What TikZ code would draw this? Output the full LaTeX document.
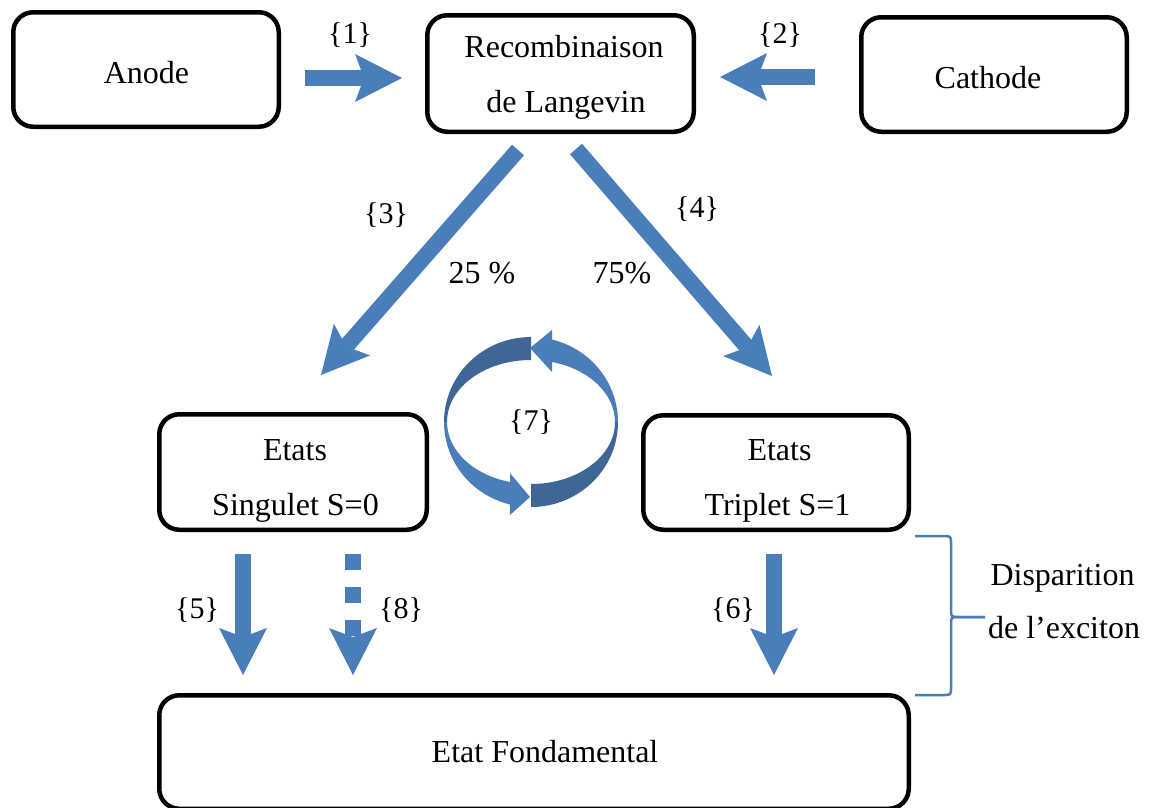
\documentclass[tikz,border=0pt]{standalone}
\usepackage{fontspec}
\setmainfont{Liberation Serif}
\usetikzlibrary{arrows.meta}
\definecolor{arrowblue}{HTML}{4A7EBB}
\definecolor{ribbondark}{HTML}{3F6796}

\begin{document}
\begin{tikzpicture}[x=1pt, y=-1pt,
  box/.style={draw=black, line width=4.5pt, rounded corners=20pt, inner sep=0pt},
  txt/.style={font=\fontsize{32}{38}\selectfont, anchor=base, inner sep=0pt},
  tag/.style={font=\fontsize{30}{36}\selectfont, anchor=base, inner sep=0pt},
  fatarrow/.style={draw=arrowblue, line width=16pt,
    -{Stealth[length=47pt, width=48pt, inset=9pt, line width=0pt]}},
  dotarrow/.style={fatarrow, dash pattern=on 16pt off 17pt},
  bracket/.style={draw=arrowblue, line width=2.5pt},
]
\useasboundingbox (0,0) rectangle (1151,807);

% frames
\node[box, minimum width=265.5pt, minimum height=114.5pt] (anode)    at (146,69.5)  {};
\node[box, minimum width=266.5pt, minimum height=116.5pt] (recomb)   at (560.5,73.5) {};
\node[box, minimum width=265.5pt, minimum height=114.5pt] (cathode)  at (994,74.5)  {};
\node[box, minimum width=267.5pt, minimum height=115.5pt] (singulet) at (293,472)   {};
\node[box, minimum width=265.5pt, minimum height=114.5pt] (triplet)  at (776,472.5) {};
\node[box, minimum width=749.5pt, minimum height=113.5pt] (fond)     at (534,752)   {};

% box texts
\node[txt] (anodeT)   at (146.5,83) {Anode};
\node[txt] (recombT1) at (564,57)   {Recombinaison};
\node[txt] (recombT2) at (566,112)  {de Langevin};
\node[txt] (cathodeT) at (988,88)   {Cathode};
\node[txt] (singT1)   at (295,460)  {Etats};
\node[txt] (singT2)   at (295.5,515) {Singulet S=0};
\node[txt] (tripT1)   at (779.5,460) {Etats};
\node[txt] (tripT2)   at (777.5,515) {Triplet S=1};
\node[txt] (fondT)    at (545,762)  {Etat Fondamental};

% arrow end points
\coordinate (a1s) at (305,78);  \coordinate (a1e) at (402,78);
\coordinate (a2s) at (815,77);  \coordinate (a2e) at (720,77);
\coordinate (a3s) at (518,150); \coordinate (a3e) at (321,375);
\coordinate (a4s) at (576,149); \coordinate (a4e) at (772,376);
\coordinate (a5s) at (243,554); \coordinate (a5e) at (243,675);
\coordinate (a8s) at (353,554); \coordinate (a8e) at (353,675);
\coordinate (a6s) at (774,554); \coordinate (a6e) at (774,675);

\draw[fatarrow] (a1s) -- (a1e);
\draw[fatarrow] (a2s) -- (a2e);
\draw[fatarrow] (a3s) -- (a3e);
\draw[fatarrow] (a4s) -- (a4e);
\draw[fatarrow] (a5s) -- (a5e);
\draw[dotarrow] (a8s) -- (a8e);
\draw[fatarrow] (a6s) -- (a6e);

% arrow labels
\node[tag] (l1) at (350,43)  {\{1\}};
\node[tag] (l2) at (780,43)  {\{2\}};
\node[tag] (l3) at (386,223) {\{3\}};
\node[tag] (l4) at (697,217) {\{4\}};
\node[tag] (l5) at (197,618) {\{5\}};
\node[tag] (l8) at (401,618) {\{8\}};
\node[tag] (l6) at (733,618) {\{6\}};
\node[txt] (p25) at (482,283) {25 \%};
\node[txt] (p75) at (622,283) {75\%};

% circular exchange between the two states
\begin{scope}[shift={(531,422)}, yscale=-1]
  \fill[ribbondark] (0,85) arc[start angle=90, end angle=180, x radius=87, y radius=85]
    -- (-84,0) arc[start angle=180, end angle=90, x radius=84, y radius=62] -- cycle;
  \fill[arrowblue] (-87,0) arc[start angle=180, end angle=256, x radius=87, y radius=85]
    -- (-21,-93) -- (-1,-75) -- (-21,-51) -- (-21,-60)
    arc[start angle=255.5, end angle=180, x radius=84, y radius=62] -- cycle;
  \fill[ribbondark] (0,-85) arc[start angle=270, end angle=360, x radius=87, y radius=85]
    -- (84,0) arc[start angle=0, end angle=-90, x radius=84, y radius=62] -- cycle;
  \fill[arrowblue] (87,0) arc[start angle=0, end angle=76, x radius=87, y radius=85]
    -- (21,92) -- (-1,74) -- (21,50) -- (21,60)
    arc[start angle=75.5, end angle=0, x radius=84, y radius=62] -- cycle;
\end{scope}
\node[tag] (l7) at (531,430) {\{7\}};

% brace grouping the decay paths
\coordinate (bt) at (915,536);
\coordinate (bm) at (985,617);
\coordinate (bb) at (915,695);
\draw[bracket] (bt) -- (943,536) .. controls (951,536) .. (951,544) -- (951,609)
  .. controls (951,617) .. (959,617) -- (bm);
\draw[bracket] (bm) -- (959,617) .. controls (951,617) .. (951,625) -- (951,687)
  .. controls (951,695) .. (943,695) -- (bb);
\node[txt] (dispT1) at (1062.5,585) {Disparition};
\node[txt] (dispT2) at (1064,638)   {de l’exciton};

\end{tikzpicture}
\end{document}
